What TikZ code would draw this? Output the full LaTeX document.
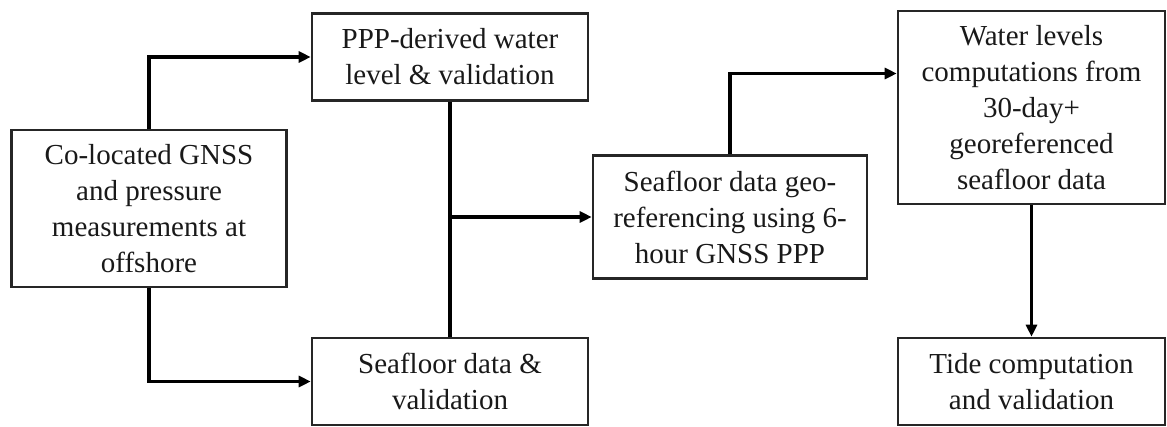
\documentclass[tikz,border=0pt]{standalone}
\usepackage{fontspec}
\setmainfont{Liberation Serif}
\usetikzlibrary{arrows.meta}
\begin{document}
\begin{tikzpicture}[x=1pt,y=-1pt,
  box/.style={draw=black!85,line width=2.6pt,inner sep=0pt,align=center,
    font=\fontsize{29}{36}\selectfont,text=black!90},
  conn/.style={line width=3.2pt,draw=black,-{Triangle[length=12pt,width=11pt]}},
  plain/.style={line width=3.2pt,draw=black}]
\useasboundingbox (0,0) rectangle (1167,426);
\node[box,minimum width=275pt,minimum height=157pt] (A) at (149,208.5)
  {Co-located GNSS\\and pressure\\measurements at\\offshore};
\node[box,minimum width=276pt,minimum height=87pt] (B) at (450,57)
  {PPP-derived water\\level \& validation};
\node[box,minimum width=276pt,minimum height=87pt] (C) at (450,381.5)
  {Seafloor data \&\\validation};
\node[box,minimum width=274pt,minimum height=123pt] (D) at (730,217)
  {Seafloor data geo-\\referencing using 6-\\hour GNSS PPP};
\node[box,minimum width=267pt,minimum height=193pt] (E) at (1031.5,107.5)
  {Water levels\\computations from\\30-day+\\georeferenced\\seafloor data};
\node[box,minimum width=267pt,minimum height=87pt] (F) at (1031.5,381.5)
  {Tide computation\\and validation};
\draw[conn] (A.north) |- (B.west);
\draw[conn] (A.south) |- (C.west);
\draw[plain] (B.south) -- (C.north);
\draw[conn] (B.south |- D.west) -- (D.west);
\draw[conn] (D.north) |- ([yshift=34pt]E.west);
\draw[conn] (E.south) -- (F.north);
\end{tikzpicture}
\end{document}
